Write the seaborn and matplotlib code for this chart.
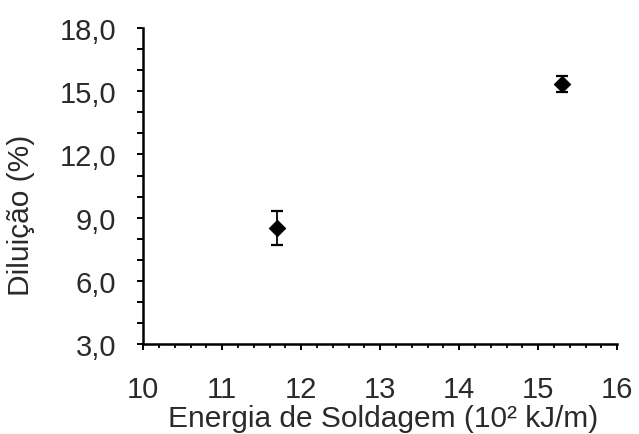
import matplotlib
matplotlib.use("Agg")
import matplotlib.pyplot as plt
import seaborn as sns
import pandas as pd
from matplotlib.ticker import MultipleLocator, FuncFormatter

energia = [11.7, 15.3]
diluicao = [8.5, 15.35]
erro = [0.8, 0.38]

df = pd.DataFrame({"energia": energia, "diluicao": diluicao, "erro": erro})

sns.set_style("white")
plt.rcParams['font.family'] = ['Liberation Sans', 'DejaVu Sans']

fig = plt.figure(figsize=(6.39, 4.35), dpi=100)
ax = fig.add_axes([0.224, 0.207, 0.742, 0.726])

ax.errorbar(df["energia"], df["diluicao"], yerr=df["erro"], fmt='none',
            ecolor='black', elinewidth=1.3, capsize=4.5, capthick=1.6, zorder=2)
sns.scatterplot(data=df, x="energia", y="diluicao", marker='D', s=70,
                color='black', edgecolor='black', ax=ax, zorder=3, legend=False)

ax.set_xlim(10, 16)
ax.set_ylim(3, 18)
ax.xaxis.set_major_locator(MultipleLocator(1))
ax.xaxis.set_minor_locator(MultipleLocator(0.2))
ax.yaxis.set_major_locator(MultipleLocator(3))
ax.yaxis.set_minor_locator(MultipleLocator(1))
ax.yaxis.set_major_formatter(FuncFormatter(lambda v, p: f"{v:.1f}".replace('.', ',')))

txt = '#2a2a2a'
ax.tick_params(axis='x', which='major', direction='out', length=4.5, width=1.4,
               colors='black', labelcolor=txt, labelsize=21, pad=17.5, bottom=True)
ax.tick_params(axis='x', which='minor', direction='out', length=3.2, width=1.3,
               colors='black', bottom=True)
ax.tick_params(axis='y', which='both', direction='out', length=4.5, width=1.4,
               colors='black', labelcolor=txt, labelsize=21, pad=15, left=True)

for s in ['top', 'right']:
    ax.spines[s].set_visible(False)
for s in ['left', 'bottom']:
    ax.spines[s].set_color('black')
    ax.spines[s].set_linewidth(1.8)

ax.set_xlabel("Energia de Soldagem (10² kJ/m)", fontsize=21.5, color=txt)
ax.set_ylabel("Diluição (%)", fontsize=21.5, color=txt)
ax.xaxis.set_label_coords(0.506, -0.19)
ax.yaxis.set_label_coords(-0.228, 0.41)

fig.savefig("out.png", dpi=100, facecolor='white')
